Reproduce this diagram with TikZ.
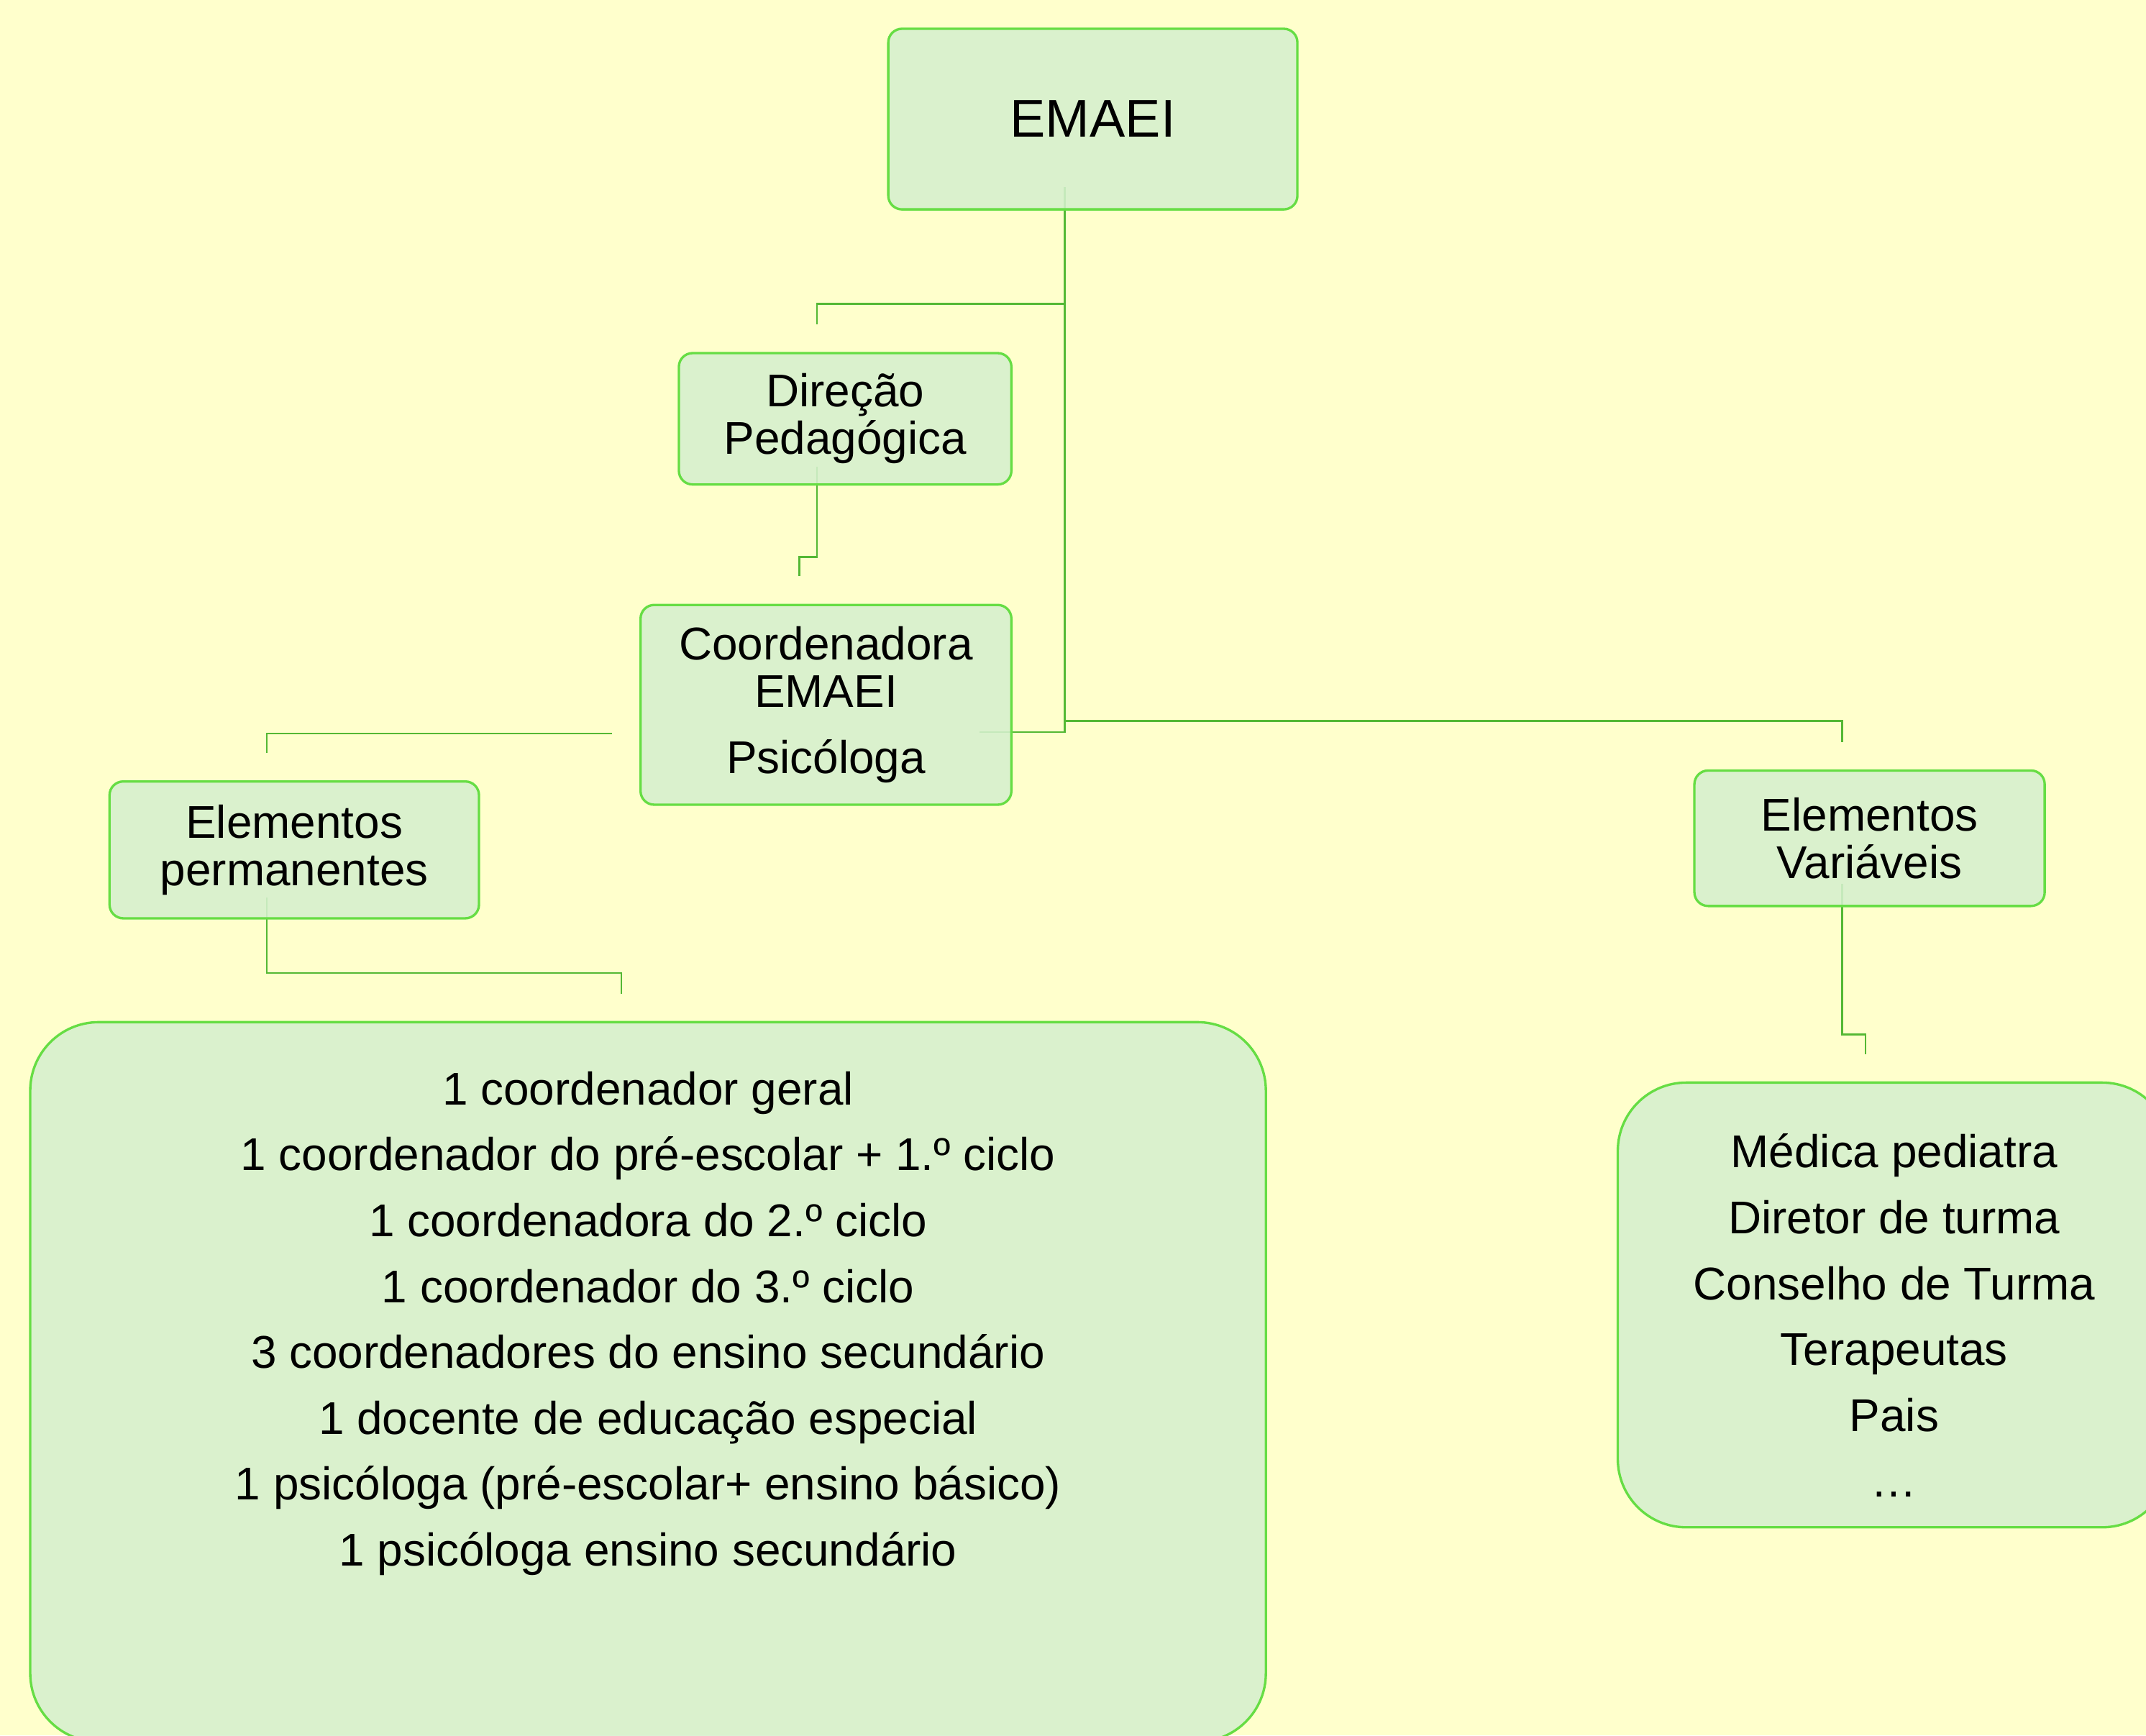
\documentclass[tikz,border=0pt]{standalone}
\usepackage{fontspec}
\setmainfont{Liberation Sans}
\usetikzlibrary{calc}

\definecolor{papercol}{RGB}{255,255,204}
\definecolor{boxfill}{RGB}{213,240,206}
\definecolor{boxedge}{RGB}{102,221,68}
\definecolor{linkcol}{RGB}{84,184,52}

\pgfdeclarelayer{paper}
\pgfdeclarelayer{wires}
\pgfsetlayers{paper,wires,main}

\begin{document}
\begin{tikzpicture}[x=0.02cm,y=-0.02cm,
    box/.style={draw=boxedge,fill=boxfill,fill opacity=0.88,text opacity=1,
      line width=1pt,rounded corners=0.2cm,align=center,inner sep=0pt,
      font=\fontsize{19.1}{19.8}\selectfont},
    listbox/.style={box,rounded corners=1cm,font=\fontsize{19.1}{27.4}\selectfont},
    link/.style={draw=linkcol,line width=0.8pt}]
  \useasboundingbox (0,0) rectangle (1568,1268);
  \begin{pgfonlayer}{paper}
    \fill[papercol] (0,0) rectangle (1568,1268);
  \end{pgfonlayer}

  \node[box,minimum width=5.98cm,minimum height=2.64cm,
        font=\fontsize{22.1}{24}\selectfont] (emaei) at (798.5,87) {EMAEI};
  \node[box,minimum width=4.86cm,minimum height=1.92cm] (direcao) at (617.5,306)
    {Direção\\Pedagógica};
  \node[box,minimum width=5.42cm,minimum height=2.92cm] (coord) at (603.5,515)
    {Coordenadora\\EMAEI\\[0.27cm]Psicóloga};
  \node[box,minimum width=5.4cm,minimum height=2cm] (perm) at (215,621)
    {Elementos\\permanentes};
  \node[box,minimum width=5.12cm,minimum height=1.98cm] (variav) at (1366,612.5)
    {Elementos\\Variáveis};

  \node[listbox,anchor=north,minimum width=18.06cm,inner ysep=0.72cm,
        text depth=1.85cm] (membros) at (473.5,746)
    {1 coordenador geral\\
     1 coordenador do pré-escolar + 1.º ciclo\\
     1 coordenadora do 2.º ciclo\\
     1 coordenador do 3.º ciclo\\
     3 coordenadores do ensino secundário\\
     1 docente de educação especial\\
     1 psicóloga (pré-escolar+ ensino básico)\\
     1 psicóloga ensino secundário};
  \node[listbox,minimum width=8.08cm,minimum height=6.5cm,text height=5.62cm]
    (lista) at (1384,953.5)
    {Médica pediatra\\Diretor de turma\\Conselho de Turma\\Terapeutas\\Pais\\…};

  \begin{pgfonlayer}{wires}
    % from EMAEI
    \draw[link] ($(emaei.south)+(-20.5,-17)$) -- ++(0,85)
      -| ($(direcao.north)+(-20.5,-20)$);
    \draw[link] ($(emaei.south)+(-20.5,-17)$) |- ($(coord.east)+(-24,20)$);
    \draw[link] ($(emaei.south)+(-20.5,373)$) -| ($(variav.north)+(-20,-20)$);
    % lower levels
    \draw[link] ($(direcao.south)+(-20.5,-14)$) -- ++(0,66)
      -| ($(coord.north)+(-19.5,-20)$);
    \draw[link] ($(coord.west)+(-20,21)$) -| ($(perm.north)+(-20,-20)$);
    \draw[link] ($(perm.south)+(-20,-16)$) -- ++(0,55)
      -| ($(membros.north)+(-19.5,-20)$);
    \draw[link] ($(variav.south)+(-20,-17)$) -- ++(0,110)
      -| ($(lista.north)+(-21,-20)$);
  \end{pgfonlayer}
\end{tikzpicture}
\end{document}
